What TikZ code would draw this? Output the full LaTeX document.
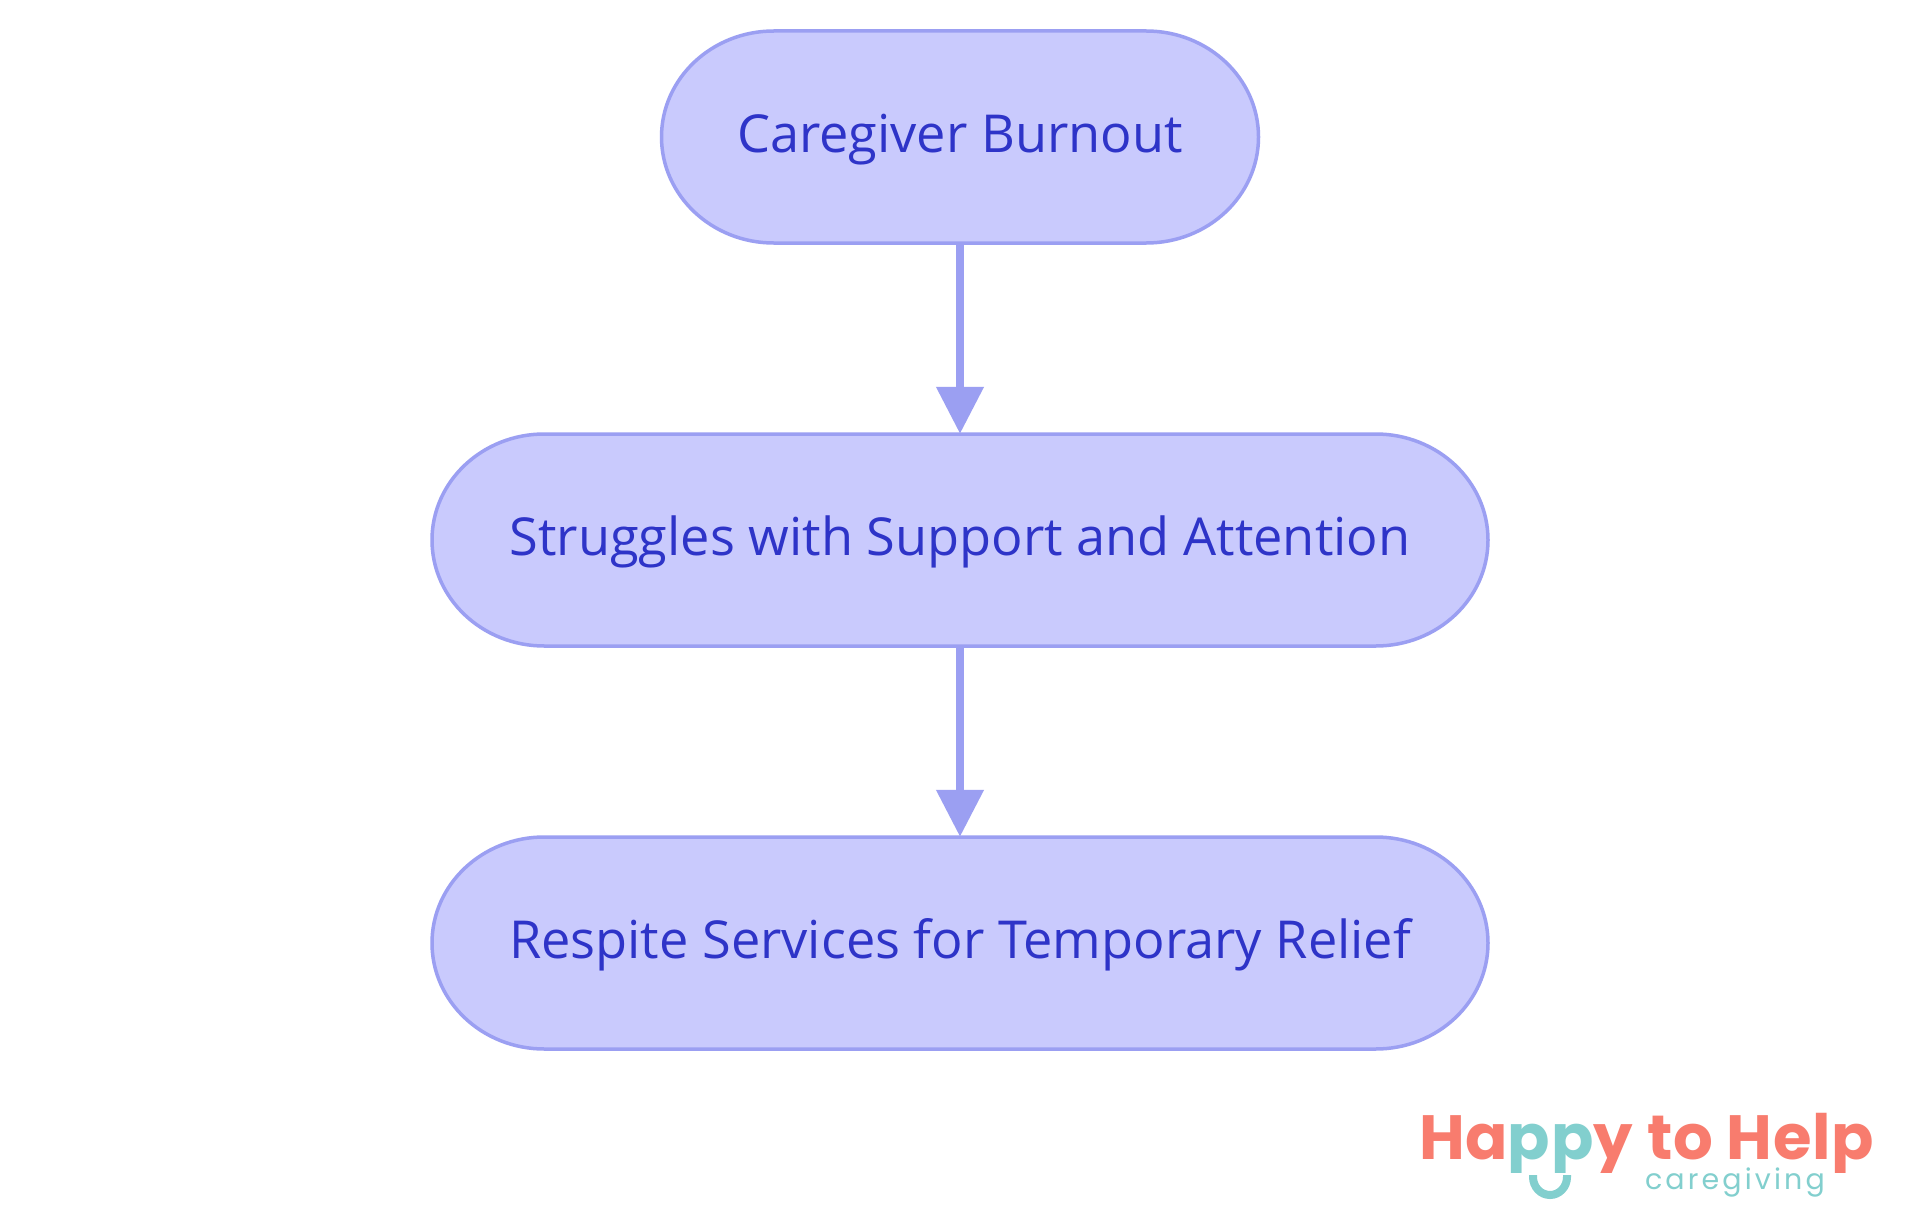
\documentclass[tikz,border=0pt]{standalone}
\usepackage{fontspec}
\usetikzlibrary{arrows.meta,backgrounds}
\setmainfont{Open Sans}
\newfontfamily\logofont{Poppins}
\definecolor{boxfill}{HTML}{C9CAFD}
\definecolor{boxline}{HTML}{9B9FF2}
\definecolor{boxtext}{HTML}{2E34C8}
\definecolor{coral}{HTML}{F87C6E}
\definecolor{teal}{HTML}{82CFCE}
\tikzset{
  nodebox/.style={minimum height=212pt, outer sep=1.75pt, inner sep=0pt, text=boxtext,
    font=\fontsize{52.3}{56}\selectfont, text height=45pt, text depth=15pt, align=center},
  pill/.style={draw=boxline, fill=boxfill, line width=3.5pt},
  flow/.style={draw=boxline, line width=8pt, shorten >=-1.5pt, -{Triangle[length=47pt,width=46pt]}},
  logotext/.style={inner sep=0pt, outer sep=0pt, anchor=base west},
}
\newcommand{\pillshape}[1]{%
  \path[pill] ([xshift=114pt,yshift=-1.75pt]#1.north west) -- ([xshift=-114pt,yshift=-1.75pt]#1.north east)
    arc[start angle=90,end angle=-90,x radius=112.25pt,y radius=106pt]
    -- ([xshift=114pt,yshift=1.75pt]#1.south west)
    arc[start angle=270,end angle=90,x radius=112.25pt,y radius=106pt] -- cycle;}
\begin{document}
\begin{tikzpicture}[x=1pt,y=-1pt]
\useasboundingbox (0,0) rectangle (1920,1215);
\node[nodebox, minimum width=597pt] (burnout) at (960,137) {Caregiver Burnout};
\node[nodebox, minimum width=1056pt] (struggles) at (960,540) {Struggles with Support and Attention};
\node[nodebox, minimum width=1056pt] (respite) at (960,943) {Respite Services for Temporary Relief};
\begin{scope}[on background layer]
\fill[white] (0,0) rectangle (1920,1215);
\pillshape{burnout}
\pillshape{struggles}
\pillshape{respite}
\end{scope}
\draw[flow] (burnout) -- (struggles);
\draw[flow] (struggles) -- (respite);
\begin{scope}
\clip (1400,1090) rectangle (1920,1172);
\node[logotext, font=\logofont\bfseries\fontsize{62.5}{62}\selectfont] (happy) at (1419,1159)
  {\addfontfeature{LetterSpace=1.2}\textcolor{coral}{Ha}\textcolor{teal}{pp}\textcolor{coral}{y to Help}};
\end{scope}
\node[logotext, text=teal, font=\logofont\fontsize{28.5}{29}\selectfont] (care) at (1645,1189)
  {\addfontfeature{LetterSpace=11}caregiving};
\coordinate (smileL) at (1533,1175);
\coordinate (smileR) at (1567,1175);
\draw[teal, line width=8pt] (smileL) -- ++(0,2) arc[start angle=180, end angle=360, x radius=17, y radius=-18] -- (smileR);
\end{tikzpicture}
\end{document}
